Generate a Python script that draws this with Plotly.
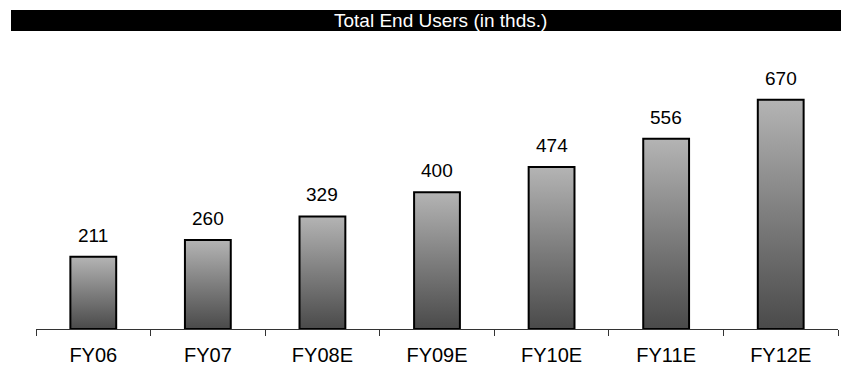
import plotly.graph_objects as go

categories = ["FY06", "FY07", "FY08E", "FY09E", "FY10E", "FY11E", "FY12E"]
end_users = [211, 260, 329, 400, 474, 556, 670]
title_text = "Total End Users (in thds.)"

FONT = "Arial, Liberation Sans, sans-serif"
BAR_WIDTH = 0.4
GRADIENT = [[0.0, "#4a4a4a"], [0.5, "#7e7e7e"], [1.0, "#b4b4b4"]]

W, H = 853, 369
M_L, M_R, M_T, M_B = 36, 15, 40, 40
plot_w = W - M_L - M_R
plot_h = H - M_T - M_B


def px_to_paper_x(px):
    return (px - M_L) / plot_w


def px_to_paper_y(py):
    return (H - M_B - py) / plot_h


fig = go.Figure()

# Gradient-filled bar bodies on a numeric axis (one polygon per category)
for i, v in enumerate(end_users):
    x0, x1 = i - BAR_WIDTH / 2, i + BAR_WIDTH / 2
    fig.add_trace(go.Scatter(
        x=[x0, x1, x1, x0, x0],
        y=[0, 0, v, v, 0],
        mode="lines",
        fill="toself",
        fillgradient=dict(type="vertical", colorscale=GRADIENT),
        line=dict(width=0, color="rgba(0,0,0,0)"),
        hoverinfo="skip",
        showlegend=False,
        xaxis="x",
        yaxis="y",
    ))

# Bar outlines on the category axis, drawn over the gradients
fig.add_trace(go.Bar(
    x=categories,
    y=end_users,
    width=BAR_WIDTH,
    marker=dict(color="rgba(0,0,0,0)", line=dict(color="#000000", width=2)),
    showlegend=False,
    xaxis="x2",
    yaxis="y",
))

# Value labels above each bar
for c, v in zip(categories, end_users):
    fig.add_annotation(
        x=c, y=v, xref="x2", yref="y",
        text=str(v), showarrow=False,
        yanchor="bottom", yshift=9,
        font=dict(family=FONT, size=19, color="#000000"),
    )

# Black title banner
fig.add_shape(
    type="rect", xref="paper", yref="paper",
    x0=px_to_paper_x(11), x1=px_to_paper_x(841),
    y0=px_to_paper_y(31), y1=px_to_paper_y(10),
    fillcolor="#000000", line=dict(width=0), layer="above",
)
fig.add_annotation(
    x=px_to_paper_x(440), y=px_to_paper_y(20.5), xref="paper", yref="paper",
    text=title_text, showarrow=False, xanchor="center", yanchor="middle",
    font=dict(family=FONT, size=19, color="#ffffff"),
)

fig.update_layout(
    width=W, height=H,
    margin=dict(l=M_L, r=M_R, t=M_T, b=M_B, pad=0, autoexpand=False),
    paper_bgcolor="#ffffff",
    plot_bgcolor="#ffffff",
    font=dict(family=FONT, size=19, color="#000000"),
    xaxis=dict(visible=False, range=[-0.5, len(categories) - 0.5],
               fixedrange=True, automargin=False),
    xaxis2=dict(
        type="category", overlaying="x", side="bottom", anchor="y",
        range=[-0.5, len(categories) - 0.5], automargin=False,
        showline=True, linecolor="#333333", linewidth=1,
        ticks="outside", tickson="boundaries", ticklen=6, tickcolor="#333333",
        ticklabelstandoff=8,
        showgrid=False, zeroline=False,
        tickfont=dict(family=FONT, size=20, color="#000000"),
    ),
    yaxis=dict(visible=False, range=[0, 845], fixedrange=True, automargin=False),
)

fig.write_html("out.html")
